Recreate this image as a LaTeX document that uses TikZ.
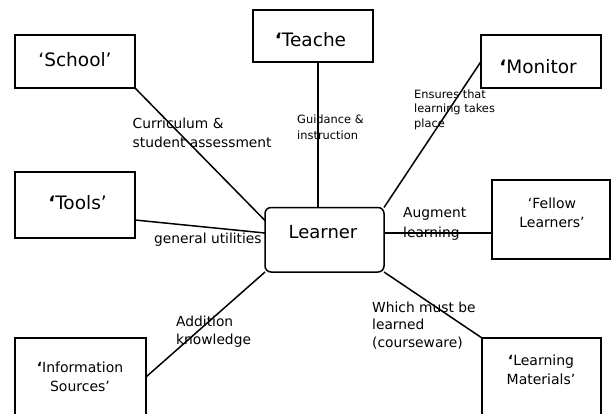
\documentclass[tikz,border=0pt]{standalone}
\usepackage{fontspec}
\setmainfont{DejaVu Sans}
\usetikzlibrary{calc}
\begin{document}
\begin{tikzpicture}[x=1pt,y=-1pt,
  box/.style={draw, line width=1.5pt, rectangle, inner sep=0pt, outer sep=0pt},
  conn/.style={line width=1.5pt},
  big/.style={inner sep=0pt, font=\fontsize{18.5}{22}\selectfont},
  mid/.style={inner sep=0pt, align=center, font=\fontsize{14}{19.5}\selectfont},
  lbl/.style={inner sep=0pt, align=left, font=\fontsize{13.8}{18.5}\selectfont},
  small/.style={inner sep=0pt, align=left, font=\fontsize{11.4}{15}\selectfont},
]
\clip (0,0) rectangle (611,413);
\fill[white] (0,0) rectangle (611,413);

% boxes
\node[box, minimum width=120pt, minimum height=53pt] (school) at (75,61.5) {};
\node[box, minimum width=120pt, minimum height=52pt] (teacher) at (313,36) {};
\node[box, minimum width=120pt, minimum height=53pt] (monitor) at (541,61.5) {};
\node[box, minimum width=120pt, minimum height=66pt] (tools) at (75,205) {};
\node[box, rounded corners=6pt, minimum width=119pt, minimum height=64.5pt] (learner) at (324.5,239.75) {};
\node[box, minimum width=118pt, minimum height=79pt] (fellow) at (551,219.5) {};
\node[box, minimum width=131pt, minimum height=92pt] (info) at (80.5,384) {};
\node[box, minimum width=119pt, minimum height=92pt] (materials) at (541.5,384) {};

% box texts
\node[big, anchor=base] (schoolt) at (75,66.5) {‘School’};
\node[big, anchor=base] (teachert) at (310.5,46) {{\bfseries ‘}Teache};
\node[big, anchor=base] (monitort) at (538,73) {{\bfseries ‘}Monitor};
\node[big, anchor=base] (toolst) at (77.5,209) {{\bfseries ‘}Tools’};
\node[inner sep=0pt, font=\fontsize{18}{22}\selectfont, anchor=base] (learnert) at (323,238) {Learner};
\node[mid, anchor=north] (fellowt) at (552,197.4) {‘Fellow\\Learners’};
\node[mid, anchor=north] (infot) at (80,361.4) {{\bfseries ‘}Information\\Sources’};
\node[mid, anchor=north] (materialst) at (541,354.4) {{\bfseries ‘}Learning\\Materials’};

% connectors
\coordinate (tp) at ($(teacher.south)+(5,0)$);
\coordinate (fp) at ($(learner.north east)+(0,25.5)$);
\draw[conn] (school.south east) -- ($(learner.north west)+(0,13)$);
\draw[conn] (tp) -- (tp |- learner.north);
\draw[conn] (monitor.west) -- (learner.north east);
\draw[conn] ($(tools.east)+(0,15)$) -- ($(learner.north west)+(0,25.5)$);
\draw[conn] (fp) -- (fp -| fellow.west);
\draw[conn] ($(info.north east)+(0,39)$) -- (learner.south west);
\draw[conn] (learner.south east) -- (materials.north west);

% connector labels
\node[lbl, anchor=north west, font=\fontsize{13.8}{19}\selectfont] (curt) at (132.5,117.5) {Curriculum \&\\student assessment};
\node[small, anchor=north west, font=\fontsize{11.4}{16}\selectfont] (guit) at (297,114.3) {Guidance \&\\instruction};
\node[small, anchor=north west, font=\fontsize{11.4}{14.5}\selectfont] (enst) at (414,89.3) {Ensures that\\learning takes\\place};
\node[lbl, anchor=base west] (gent) at (154,243) {general utilities};
\node[lbl, anchor=north west, font=\fontsize{13.8}{20}\selectfont] (augt) at (403,207) {Augment\\learning};
\node[lbl, anchor=north west, font=\fontsize{13.8}{18}\selectfont] (addt) at (176,315.5) {Addition\\knowledge};
\node[lbl, anchor=north west, font=\fontsize{13.8}{17.5}\selectfont] (whit) at (372,301.5) {Which must be\\learned\\(courseware)};
\end{tikzpicture}
\end{document}
